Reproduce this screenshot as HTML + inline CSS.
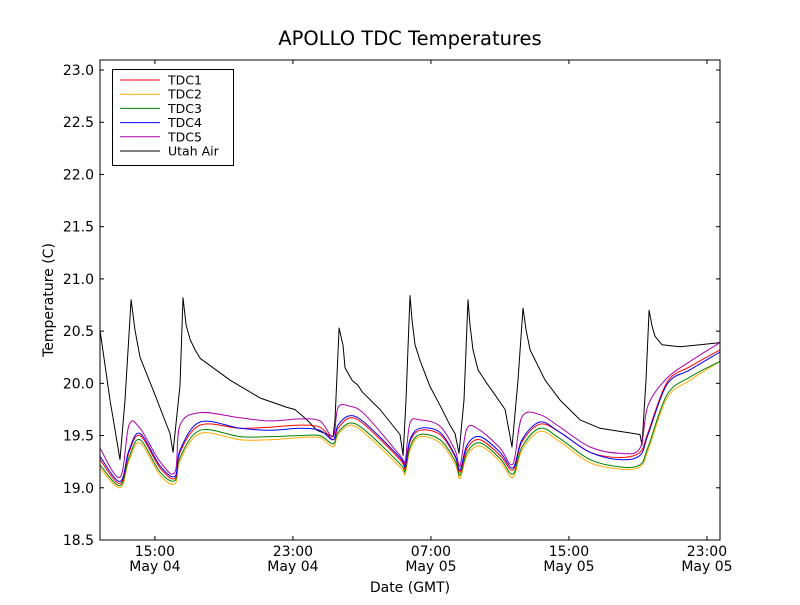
<!DOCTYPE html>
<html><head><meta charset="utf-8"><style>
body{margin:0;background:#fff;}
svg text{font-family:"DejaVu Sans","Liberation Sans",sans-serif;}
</style></head><body>
<svg id="chart" width="800" height="600" xmlns="http://www.w3.org/2000/svg">
<rect width="800" height="600" fill="#fff"/>
<text x="410" y="45" text-anchor="middle" font-size="19.5">APOLLO TDC Temperatures</text>
<g id="plot"></g>
<text x="410" y="592" text-anchor="middle" font-size="14">Date (GMT)</text>
<text transform="translate(53,300) rotate(-90)" text-anchor="middle" font-size="14">Temperature (C)</text>
</svg>
<script>
// hours since 11:49 May 04 GMT
const tdcTimes=[0,1.16,1.68,2.32,3.48,4.35,4.64,5.80,8.12,9.86,11.59,12.75,13.51,13.80,14.49,15.36,17.39,17.68,17.97,18.55,19.71,20.58,20.87,21.28,22.03,23.19,23.94,24.46,25.51,26.67,28.41,30.14,31.30,31.77,32.87,34.20,35.94];
const tdc1=[19.27,19.04,19.34,19.50,19.19,19.09,19.34,19.60,19.57,19.58,19.60,19.58,19.46,19.57,19.67,19.60,19.27,19.19,19.44,19.55,19.51,19.30,19.15,19.38,19.46,19.31,19.17,19.44,19.61,19.53,19.34,19.29,19.34,19.53,20.01,20.16,20.32];
const tdc2=[19.19,19.00,19.26,19.43,19.12,19.04,19.26,19.52,19.46,19.46,19.48,19.48,19.39,19.51,19.60,19.52,19.20,19.13,19.36,19.49,19.43,19.23,19.09,19.31,19.40,19.25,19.10,19.36,19.54,19.44,19.24,19.18,19.20,19.36,19.86,20.03,20.21];
const tdc3=[19.22,19.02,19.29,19.46,19.15,19.07,19.29,19.55,19.49,19.49,19.50,19.50,19.42,19.53,19.62,19.55,19.23,19.16,19.39,19.51,19.46,19.26,19.12,19.34,19.43,19.28,19.13,19.39,19.57,19.47,19.27,19.20,19.22,19.39,19.89,20.06,20.21];
const tdc4=[19.30,19.06,19.36,19.52,19.21,19.11,19.36,19.63,19.57,19.55,19.57,19.55,19.46,19.60,19.69,19.62,19.29,19.21,19.46,19.57,19.53,19.31,19.17,19.41,19.49,19.34,19.19,19.46,19.63,19.53,19.34,19.27,19.31,19.51,19.99,20.13,20.30];
const tdc5=[19.38,19.10,19.60,19.57,19.25,19.15,19.60,19.72,19.67,19.64,19.66,19.64,19.49,19.77,19.78,19.70,19.31,19.25,19.62,19.65,19.59,19.36,19.21,19.57,19.55,19.38,19.23,19.68,19.70,19.58,19.39,19.33,19.38,19.79,20.05,20.21,20.39];
const airTimes=[0,0.58,1.16,1.45,1.80,2.03,2.32,3.19,4.06,4.23,4.64,4.81,4.99,5.22,5.51,5.80,7.54,9.28,10.84,11.30,12.00,12.58,13.51,13.62,13.86,14.09,14.20,14.61,14.96,15.19,16.23,17.39,17.57,17.74,17.97,18.09,18.26,18.55,19.13,19.71,20.29,20.58,20.81,21.10,21.33,21.45,21.62,21.91,22.38,22.90,23.48,23.88,24.23,24.52,24.70,24.93,25.80,26.67,27.83,28.99,30.14,31.30,31.42,31.65,31.83,32.00,32.17,32.58,33.62,34.78,35.94];
const airTemp=[20.51,19.84,19.27,19.84,20.80,20.51,20.25,19.89,19.52,19.34,19.98,20.82,20.56,20.42,20.32,20.24,20.03,19.86,19.77,19.75,19.65,19.55,19.49,19.65,20.53,20.36,20.15,20.03,19.98,19.92,19.75,19.51,19.31,19.84,20.84,20.60,20.37,20.22,19.97,19.79,19.60,19.52,19.33,19.84,20.80,20.56,20.32,20.13,20.01,19.89,19.75,19.39,20.03,20.72,20.51,20.32,20.03,19.84,19.65,19.57,19.54,19.51,19.41,20.03,20.70,20.55,20.45,20.37,20.35,20.37,20.39];
const yTicks=[18.5,19.0,19.5,20.0,20.5,21.0,21.5,22.0,22.5,23.0];
const xTickHours=[3.183,11.183,19.183,27.183,35.183];
const xTickTimes=["15:00","23:00","07:00","15:00","23:00"];
const xTickDates=["May 04","May 04","May 05","May 05","May 05"];
const seriesNames=["TDC1","TDC2","TDC3","TDC4","TDC5","Utah Air"];
const seriesColors=["#ff0000","#ffaa00","#008000","#0000ff","#aa00aa","#000000"];

const L=100,R=720,T=60,B=540,XMIN=0,XMAX=35.94,YMIN=18.5,YMAX=23.096;
const sx=t=>L+(t-XMIN)/(XMAX-XMIN)*(R-L);
const sy=v=>B-(v-YMIN)/(YMAX-YMIN)*(B-T);
const NS="http://www.w3.org/2000/svg";
const plot=document.getElementById('plot');
function mk(tag,attrs,parent){const e=document.createElementNS(NS,tag);for(const k in attrs)e.setAttribute(k,attrs[k]);(parent||plot).appendChild(e);return e;}
function smoothPath(P){
  let d='M'+P[0][0].toFixed(1)+','+P[0][1].toFixed(1);
  for(let i=0;i<P.length-1;i++){
    const p0=P[Math.max(0,i-1)],p1=P[i],p2=P[i+1],p3=P[Math.min(P.length-1,i+2)];
    const k=1/6;
    const c1x=p1[0]+(p2[0]-p0[0])*k,c1y=p1[1]+(p2[1]-p0[1])*k;
    const c2x=p2[0]-(p3[0]-p1[0])*k,c2y=p2[1]-(p3[1]-p1[1])*k;
    d+=' C'+c1x.toFixed(1)+','+c1y.toFixed(1)+' '+c2x.toFixed(1)+','+c2y.toFixed(1)+' '+p2[0].toFixed(1)+','+p2[1].toFixed(1);
  }
  return d;
}

const lines=[[tdcTimes,tdc1],[tdcTimes,tdc2],[tdcTimes,tdc3],[tdcTimes,tdc4],[tdcTimes,tdc5],[airTimes,airTemp]];
const order=[5,1,2,0,3,4];
order.forEach(i=>{
  const [ts,vs]=lines[i];
  const P=ts.map((t,j)=>[sx(t),sy(vs[j])]);
  let p;
  if(i==5){
    p=mk('polyline',{points:P.map(q=>q[0].toFixed(1)+','+q[1].toFixed(1)).join(' '),fill:'none',stroke:seriesColors[i],'stroke-width':1,'stroke-linejoin':'round'});
  } else {
    p=mk('path',{d:smoothPath(P),fill:'none',stroke:seriesColors[i],'stroke-width':1});
  }
  
  
});

const frame=mk('rect',{x:L,y:T,width:R-L,height:B-T,fill:'none',stroke:'#000','stroke-width':1});



yTicks.forEach(v=>{
  const y=sy(v);
  mk('line',{x1:L,x2:L+4,y1:y,y2:y,stroke:'#000'});
  mk('line',{x1:R,x2:R-4,y1:y,y2:y,stroke:'#000'});
  const tx=mk('text',{x:L-6,y:y+5,'text-anchor':'end','font-size':14});
  tx.textContent=v.toFixed(1);
  
  
});
xTickHours.forEach((h,i)=>{
  const x=sx(h);
  mk('line',{x1:x,x2:x,y1:B,y2:B-4,stroke:'#000'});
  mk('line',{x1:x,x2:x,y1:T,y2:T+4,stroke:'#000'});
  const t1=mk('text',{x:x,y:556,'text-anchor':'middle','font-size':14});
  t1.textContent=xTickTimes[i];
  
  
  const t2=mk('text',{x:x,y:571,'text-anchor':'middle','font-size':14});
  t2.textContent=xTickDates[i];
  
  
});

const lg=mk('g',{});


mk('rect',{x:112.5,y:69.5,width:121,height:96,fill:'#fff',stroke:'#000'},lg);
seriesNames.forEach((n,i)=>{
  const y=80+i*14.2;
  const g=mk('g',{},lg);
  
  
  mk('line',{x1:120,x2:160,y1:y,y2:y,stroke:seriesColors[i],'stroke-width':1},g);
  const t=mk('text',{x:168,y:y+4.5,'font-size':12.5},g);
  t.textContent=n;
});
</script>
</body></html>
